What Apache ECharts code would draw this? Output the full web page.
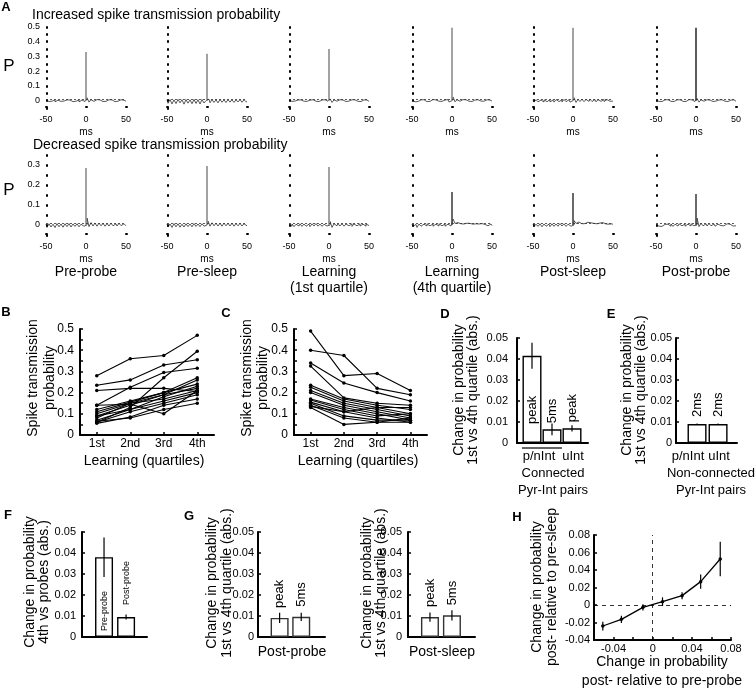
<!DOCTYPE html>
<html><head><meta charset="utf-8">
<script src="https://cdn.jsdelivr.net/npm/echarts@6/dist/echarts.min.js"></script>
<style>html,body{margin:0;padding:0;background:#fff}#c{width:756px;height:690px}</style>
</head><body><div id="c"></div>
<script>
// ================= DATA =================
const lagMs = [-50,-47.5,-45,-42.5,-40,-37.5,-35,-32.5,-30,-27.5,-25,-22.5,-20,-17.5,-15,-12.5,-10,-7.5,-5,-2.5,0,2.5,5,7.5,10,12.5,15,17.5,20,22.5,25,27.5,30,32.5,35,37.5,40,42.5,45,47.5,50];
const conditions = ['Pre-probe','Pre-sleep','Learning','Learning','Post-sleep','Post-probe'];
const conditionSub = ['','','(1st quartile)','(4th quartile)','',''];
const peakIncreased = [0.331,0.318,0.351,0.495,0.495,0.495];
const peakDecreased = [0.285,0.295,0.29,0.165,0.16,0.155];
const sigThreshold = 0.015;
const noiseInc1 = [.004,-.006,.005,-.004,.006,-.008,.003,-.005,.007,-.003,.005,-.006,.004,-.007,.006,-.004,.005,-.009,.004,-.006,0,.02,-.01,.006,-.005,.007,-.004,.005,-.006,.004,-.005,.006,-.003,.005,-.007,.004,-.004,.006,-.005,.003,-.004];
const noiseInc2 = [.006,-.018,.007,-.022,.005,-.02,.008,-.015,.006,-.024,.007,-.017,.005,-.021,.008,-.019,.006,-.023,.007,-.016,0,.01,-.014,.007,-.012,.006,-.015,.008,-.011,.006,-.013,.007,-.01,.006,-.012,.005,-.009,.007,-.011,.006,-.008];
const noiseInc3 = [.003,-.005,.006,-.003,.004,-.006,.005,-.004,.007,-.005,.003,-.007,.006,-.004,.008,-.006,.004,-.005,.006,-.004,0,.012,-.012,.005,-.004,.006,-.005,.004,-.006,.005,-.003,.006,-.004,.005,-.005,.004,-.006,.005,-.003,.004,-.005];
const noiseInc4 = [.004,-.008,.003,-.006,.005,-.004,.006,-.007,.004,-.005,.007,-.006,.005,-.004,.006,-.005,.004,-.006,.007,-.009,0,.025,-.008,.006,-.004,.007,-.005,.006,-.004,.005,-.006,.004,-.005,.006,-.003,.005,-.004,.006,-.005,.004,-.003];
const noiseInc5 = [.005,-.01,.006,-.008,.004,-.009,.005,-.007,.006,-.008,.004,-.01,.007,-.006,.005,-.009,.008,-.007,.006,-.01,0,.02,-.012,.008,-.006,.009,-.007,.008,-.005,.009,-.006,.007,-.008,.006,-.005,.008,-.006,.007,-.004,.005,-.003];
const noiseInc6 = [.003,-.005,.004,-.006,.005,-.004,.006,-.005,.004,-.006,.005,-.007,.006,-.005,.004,-.006,.007,-.004,.005,-.006,0,.015,-.01,.005,-.004,.006,-.005,.004,-.006,.005,-.003,.004,-.005,.006,-.004,.005,-.006,.004,-.003,.005,-.004];
const noiseDec1 = [.005,-.012,.006,-.01,.004,-.013,.007,-.009,.005,-.011,.006,-.008,.007,-.01,.005,-.007,.006,-.009,.004,-.006,0,.035,-.008,.012,-.005,.01,-.006,.009,-.004,.008,-.006,.007,-.005,.009,-.004,.006,-.005,.008,-.003,.006,-.004];
const noiseDec2 = [.006,-.01,.005,-.012,.007,-.009,.006,-.011,.004,-.01,.006,-.008,.005,-.009,.007,-.007,.005,-.008,.006,-.006,0,.02,-.006,.011,-.004,.009,-.005,.008,-.006,.01,-.004,.008,-.005,.009,-.006,.007,-.004,.008,-.005,.006,-.004];
const noiseDec3 = [.004,-.006,.005,-.008,.004,-.005,.006,-.007,.005,-.006,.004,-.008,.006,-.005,.007,-.006,.005,-.007,.004,-.005,0,.018,-.012,.006,-.004,.007,-.005,.006,-.006,.005,-.004,.006,-.007,.005,-.004,.006,-.005,.004,-.006,.005,-.003];
const noiseDec4 = [.004,-.007,.003,-.012,.005,-.006,.004,-.005,.006,-.004,.005,-.006,.004,-.005,.006,-.004,.005,-.006,.004,-.005,0,.03,.008,.012,.006,.01,.005,.009,.006,.008,.004,.007,.006,.005,.004,.007,.003,.006,-.004,.005,-.003];
const noiseDec5 = [.005,-.008,.004,-.007,.006,-.009,.005,-.006,.004,-.008,.006,-.007,.005,-.006,.007,-.005,.006,-.007,.004,-.006,0,.022,.008,.015,.006,.012,.007,.014,.005,.011,.008,.013,.006,.01,.007,.012,.005,.009,.004,.006,.003];
const noiseDec6 = [.003,-.006,.004,-.007,.003,-.005,.004,-.006,.005,-.007,.004,-.005,.006,-.004,.005,-.006,.004,-.005,.006,-.004,0,.035,-.008,.008,-.004,.006,-.005,.007,-.004,.005,-.006,.004,-.003,.005,-.004,.006,-.003,.004,-.005,.003,-.004];
const noiseIncreased = [noiseInc1,noiseInc2,noiseInc3,noiseInc4,noiseInc5,noiseInc6];
const noiseDecreased = [noiseDec1,noiseDec2,noiseDec3,noiseDec4,noiseDec5,noiseDec6];

const quartiles = ['1st','2nd','3rd','4th'];
const increasedPairs = [
  [0.28,0.36,0.375,0.47],[0.235,0.26,0.33,0.355],[0.21,0.22,0.22,0.205],[0.14,0.225,0.295,0.315],
  [0.06,0.13,0.27,0.395],[0.14,0.145,0.10,0.21],[0.11,0.155,0.20,0.27],[0.10,0.15,0.19,0.26],
  [0.09,0.12,0.18,0.23],[0.08,0.15,0.17,0.21],[0.07,0.12,0.16,0.20],[0.06,0.11,0.15,0.19],
  [0.055,0.085,0.14,0.17],[0.065,0.08,0.12,0.15],[0.09,0.14,0.19,0.22],[0.12,0.16,0.20,0.24]];
const decreasedPairs = [
  [0.49,0.28,0.29,0.21],[0.40,0.375,0.22,0.19],[0.34,0.245,0.20,0.16],[0.325,0.175,0.15,0.14],
  [0.235,0.17,0.14,0.12],[0.225,0.16,0.13,0.10],[0.21,0.15,0.12,0.09],[0.20,0.14,0.11,0.08],
  [0.17,0.13,0.10,0.07],[0.165,0.12,0.09,0.10],[0.155,0.11,0.08,0.06],[0.15,0.09,0.07,0.07],
  [0.14,0.08,0.06,0.08],[0.13,0.05,0.06,0.06],[0.135,0.11,0.13,0.13]];

const dBarLabels = ['peak','5ms','peak'];
const dValues = [0.0415,0.0065,0.007];
const dErrors = [0.0062,0.0028,0.0015];
const dCategories = ['p/nInt','uInt'];
const eBarLabels = ['2ms','2ms'];
const eValues = [0.009,0.009];
const eErrors = [0.0003,0.0003];
const eCategories = ['p/nInt','uInt'];
const fBarLabels = ['Pre-probe','Post-probe'];
const fValues = [0.038,0.0095];
const fErrors = [0.0094,0.0012];
const gBarLabels = ['peak','5ms'];
const gPostProbeValues = [0.0091,0.0096];
const gPostProbeErrors = [0.0024,0.0020];
const gPostSleepValues = [0.0095,0.0103];
const gPostSleepErrors = [0.0022,0.0024];
const hX = [-0.051,-0.032,-0.010,0.010,0.030,0.049,0.069];
const hY = [-0.024,-0.0164,-0.0027,0.0038,0.0107,0.0267,0.0526];
const hErr = [0.005,0.0042,0.0036,0.005,0.004,0.0082,0.0196];

// ================= STYLE / LAYOUT =================
const FF = '"Liberation Sans", Arial, Helvetica, sans-serif';
const peakColorInc = ['#8c8c8c','#8c8c8c','#8c8c8c','#8c8c8c','#8c8c8c','#333'];
const peakColorDec = ['#8c8c8c','#8c8c8c','#8c8c8c','#444','#444','#444'];
const aLeft = [46,167,289,412,533,656];
const aRow = [{top:27,height:81,max:0.5},{top:155,height:80,max:0.35}];

const grids = [], xAxes = [], yAxes = [], series = [], graphics = [];
function addGrid(g){ grids.push(g); return grids.length-1; }

const tenths = v => { const r = Math.round(v*10)/10; return (Math.abs(v-r) < 1e-9 && v > -1e-9) ? (r===0?'0':String(r)) : ''; };
const hund = v => Math.abs(v) < 1e-9 ? '0' : v.toFixed(2);

const thickLine = {show:true, onZero:false, lineStyle:{color:'#000', width:2}};
const tickIn = {show:true, inside:true, length:3, lineStyle:{color:'#000', width:1.5}};
const dotTick = {show:true, inside:true, length:2, lineStyle:{color:'#000', width:2.5}};

// ---------- Panel A ----------
for (let r=0; r<2; r++){
  for (let c=0; c<6; c++){
    const gi = addGrid({left:aLeft[c], top:aRow[r].top, width:80, height:aRow[r].height});
    xAxes.push({gridIndex:gi, type:'value', min:-50, max:50, interval:50,
      axisLine:{show:false, onZero:false}, splitLine:{show:false}, axisTick:dotTick,
      axisLabel:{fontSize:9, margin:7, color:'#000', fontFamily:FF},
      name:'ms', nameLocation:'middle', nameGap:19, nameTextStyle:{fontSize:10, color:'#000', fontFamily:FF}});
    yAxes.push({gridIndex:gi, type:'value', min:-0.05, max:aRow[r].max, interval:0.05,
      axisLine:{show:false, onZero:false}, splitLine:{show:false}, axisTick:dotTick,
      axisLabel:{show:c===0, formatter:tenths, fontSize:9, margin:6, color:'#000', fontFamily:FF}});
    const noise = r===0 ? noiseIncreased[c] : noiseDecreased[c];
    series.push({type:'line', xAxisIndex:gi, yAxisIndex:gi, step:'middle', symbol:'none', silent:true,
      data: lagMs.map((x,i)=>[x, noise[i]]),
      lineStyle:{color:'#111', width:0.7},
      markLine:{silent:true, symbol:'none', label:{show:false},
        lineStyle:{color:'#333', width:0.8, type:[2,2]}, data:[{yAxis:sigThreshold}]}});
    const pk = r===0 ? peakIncreased[c] : peakDecreased[c];
    series.push({type:'line', xAxisIndex:gi, yAxisIndex:gi, symbol:'none', silent:true, z:4,
      data:[[0,0],[0,pk]],
      lineStyle:{color: r===0?peakColorInc[c]:peakColorDec[c], width:1.6}});
  }
}

// ---------- Panels B, C ----------
function pairPanel(left, width, pairs){
  const gi = addGrid({left:left, top:329, width:width, height:106});
  xAxes.push({gridIndex:gi, type:'category', data:quartiles, boundaryGap:true,
    axisLine:thickLine, axisTick:{show:true, inside:true, alignWithLabel:true, length:3, lineStyle:{color:'#000', width:1.5}},
    axisLabel:{fontSize:12, margin:3, color:'#000', fontFamily:FF}, splitLine:{show:false}});
  yAxes.push({gridIndex:gi, type:'value', min:0, max:0.5, interval:0.05,
    axisLine:thickLine, axisTick:tickIn, splitLine:{show:false},
    axisLabel:{formatter:tenths, fontSize:12, margin:6, color:'#000', fontFamily:FF}});
  pairs.forEach(p => series.push({type:'line', xAxisIndex:gi, yAxisIndex:gi, data:p, silent:true,
    symbol:'circle', symbolSize:3.5, itemStyle:{color:'#000'}, lineStyle:{color:'#000', width:1.1}}));
  return gi;
}
pairPanel(80, 134, increasedPairs);
pairPanel(294, 133, decreasedPairs);

// ---------- Bar panels ----------
function errSeries(gi, xs, vals, errs){
  return {type:'custom', xAxisIndex:gi, yAxisIndex:gi, silent:true, z:5,
    data: xs.map((x,i)=>[x, vals[i]-errs[i], vals[i]+errs[i]]), encode:{x:0, y:[1,2]},
    renderItem:(p,api)=>{ const a=api.coord([api.value(0),api.value(1)]), b=api.coord([api.value(0),api.value(2)]);
      return {type:'line', shape:{x1:a[0],y1:a[1],x2:b[0],y2:b[1]}, style:{stroke:'#000', lineWidth:1.2}}; }};
}
function barPanel(opt){
  const gi = addGrid({left:opt.left, top:opt.top, width:opt.width, height:105});
  const xs = opt.values.map((v,i)=>i+1);
  xAxes.push({gridIndex:gi, type:'value', min:opt.xmin, max:opt.xmax,
    axisLine:thickLine, splitLine:{show:false}, axisLabel:{show:false},
    axisTick:{show:true, inside:true, length:2.5, customValues:xs, lineStyle:{color:'#000', width:1.5}}});
  yAxes.push({gridIndex:gi, type:'value', min:0, max:0.05, interval:0.01,
    axisLine:thickLine, axisTick:tickIn, splitLine:{show:false},
    axisLabel:{formatter:hund, fontSize:11, margin:opt.labelMargin, color:'#000', fontFamily:FF}});
  series.push({type:'bar', xAxisIndex:gi, yAxisIndex:gi, barWidth:opt.barWidth, silent:true,
    itemStyle:{color:'#fff', borderColor:opt.border||'#000', borderWidth:1.4},
    data: opt.values.map((v,i)=>({value:[i+1, v], label:Object.assign({show:true, formatter:opt.labels[i],
      rotate:90, align:'left', verticalAlign:'middle', color:'#000', fontFamily:FF, fontSize:opt.fontSize||13}, opt.labelPos(i))}))});
  series.push(errSeries(gi, xs, opt.values, opt.errors));
  return gi;
}
barPanel({left:517, top:338, width:71, xmin:0.25, xmax:3.8, barWidth:19, values:dValues, errors:dErrors, labels:dBarLabels, labelMargin:9,
  labelPos:i=> i===0 ? {position:'insideBottom', distance:19} : {position:'top', distance:6}});
barPanel({left:676, top:338, width:61, xmin:0, xmax:2.9, barWidth:19, values:eValues, errors:eErrors, labels:eBarLabels, labelMargin:4,
  labelPos:i=>({position:'top', distance:7})});
barPanel({left:82, top:532, width:65, xmin:0, xmax:2.95, barWidth:18, values:fValues, errors:fErrors, labels:fBarLabels, labelMargin:6, fontSize:9,
  labelPos:i=> i===0 ? {position:'insideBottom', distance:6} : {position:'top', distance:12}});
barPanel({left:258, top:532, width:67, xmin:0, xmax:3.1, barWidth:18, values:gPostProbeValues, errors:gPostProbeErrors, labels:gBarLabels, labelMargin:4, border:'#333',
  labelPos:i=>({position:'top', distance:10})});
barPanel({left:408, top:532, width:67, xmin:0, xmax:3.05, barWidth:18, values:gPostSleepValues, errors:gPostSleepErrors, labels:gBarLabels, labelMargin:6, border:'#333',
  labelPos:i=>({position:'top', distance:10})});

// ---------- Panel H ----------
(function(){
  const gi = addGrid({left:594, top:535, width:137, height:105});
  xAxes.push({gridIndex:gi, type:'value', min:-0.06, max:0.08, interval:0.02,
    axisLine:thickLine, splitLine:{show:false}, axisTick:tickIn,
    axisLabel:{fontSize:11, margin:3, color:'#000', fontFamily:FF,
      formatter:v=>{const k=v/0.04; return Math.abs(k-Math.round(k))<1e-6 ? hund(v) : '';}}});
  yAxes.push({gridIndex:gi, type:'value', min:-0.04, max:0.08, interval:0.02,
    axisLine:thickLine, axisTick:tickIn, splitLine:{show:false},
    axisLabel:{formatter:hund, fontSize:11, margin:4, color:'#000', fontFamily:FF}});
  series.push({type:'line', xAxisIndex:gi, yAxisIndex:gi, silent:true, z:3,
    data:hX.map((x,i)=>[x,hY[i]]), symbol:'circle', symbolSize:3.5,
    itemStyle:{color:'#000'}, lineStyle:{color:'#000', width:1.3},
    markLine:{silent:true, symbol:'none', label:{show:false}, lineStyle:{color:'#000', width:0.8, type:[4,4]},
      data:[{xAxis:0},{yAxis:0}]}});
  series.push(errSeries(gi, hX, hY, hErr));
})();

// ---------- Text ----------
function txt(s, x, y, size, opts){
  opts = opts || {};
  graphics.push({type:'text', x:x, y:y, rotation: opts.rot ? Math.PI/2 : 0, silent:true,
    style:{text:s, fill:'#000', font:(opts.bold?'bold ':'')+size+'px '+FF,
      textAlign:opts.align||'center', textVerticalAlign:'middle'}});
}
[['A',6,7],['B',6,312],['C',226,313],['D',445,314],['E',611,314],['F',8,515],['G',189,516],['H',517,517]]
  .forEach(l=>txt(l[0], l[1], l[2], 13, {bold:true}));
txt('Increased spike transmission probability', 32, 15, 14, {align:'left'});
txt('Decreased spike transmission probability', 33, 145, 14, {align:'left'});
txt('P', 9, 66, 17); txt('P', 9, 190, 17);
conditions.forEach((s,i)=>{ txt(s, aLeft[i]+40, 272, 14); if (conditionSub[i]) txt(conditionSub[i], aLeft[i]+40, 288, 14); });
txt('Spike transmission', 33, 378, 14, {rot:true}); txt('probability', 50, 378, 14, {rot:true});
txt('Spike transmission', 247, 378, 14, {rot:true}); txt('probability', 263, 378, 14, {rot:true});
txt('Learning (quartiles)', 144, 461, 14); txt('Learning (quartiles)', 358, 461, 14);
txt('Change in probability', 459, 390, 14, {rot:true}); txt('1st vs 4th quartile (abs.)', 473, 390, 14, {rot:true});
txt('Change in probability', 627, 390, 14, {rot:true}); txt('1st vs 4th quartile (abs.)', 641, 390, 14, {rot:true});
txt(dCategories[0], 539, 456, 13); txt(dCategories[1], 573, 456, 13);
txt('Connected', 553, 473, 13); txt('Pyr-Int pairs', 553, 490, 13);
txt(eCategories[0], 688, 456, 13); txt(eCategories[1], 719, 456, 13);
txt('Non-connected', 711, 473, 13); txt('Pyr-Int pairs', 711, 490, 13);
txt('Change in probability', 30, 582, 14, {rot:true}); txt('4th vs probes (abs.)', 44, 582, 14, {rot:true});
txt('Change in probability', 212, 583, 14, {rot:true}); txt('1st vs 4th quartile (abs.)', 227, 583, 14, {rot:true});
txt('Post-probe', 292, 652, 14);
txt('Change in probability', 367, 583, 14, {rot:true}); txt('1st vs 4th quartile (abs.)', 381, 583, 14, {rot:true});
txt('Post-sleep', 442, 652, 14);
txt('Change in probability', 537, 587, 14, {rot:true}); txt('post- relative to pre-sleep', 552, 587, 14, {rot:true});
txt('Change in probability', 662, 662, 14); txt('post- relative to pre-probe', 662, 681, 14);
graphics.push({type:'line', silent:true, shape:{x1:522, y1:448, x2:562, y2:448}, style:{stroke:'#333', lineWidth:1.5}});

const chart = echarts.init(document.getElementById('c'), null, {renderer:'canvas'});
chart.setOption({
  animation:false, backgroundColor:'#fff',
  textStyle:{fontFamily:FF, color:'#000'},
  grid:grids, xAxis:xAxes, yAxis:yAxes, series:series, graphic:graphics
});
</script></body></html>
